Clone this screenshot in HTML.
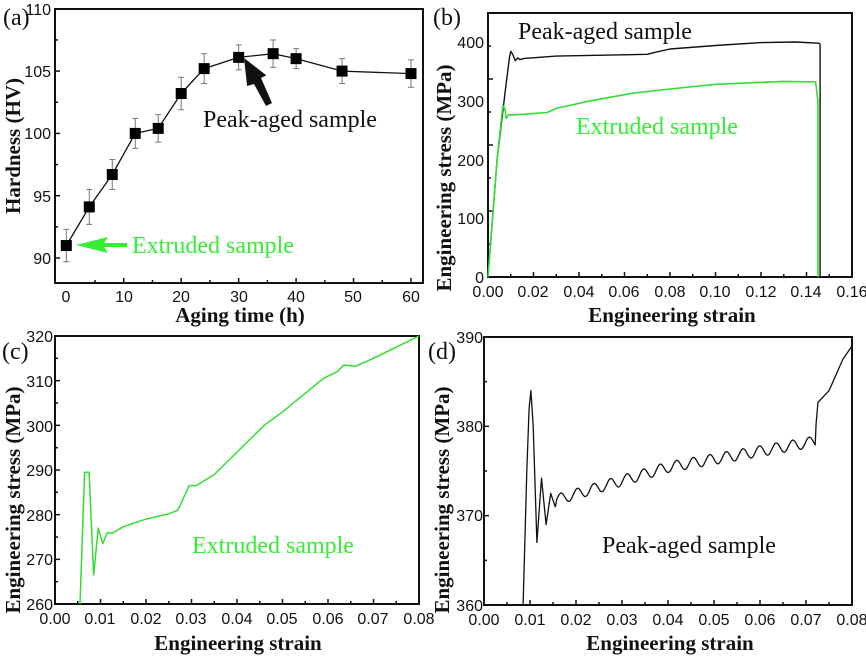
<!DOCTYPE html>
<html><head><meta charset="utf-8"><style>
body{margin:0;background:#fff}
svg{display:block}
.t{font-family:"Liberation Sans",sans-serif;font-size:16px;fill:#111}
.ax{font-family:"Liberation Serif",serif;font-weight:bold;font-size:21px;fill:#111}
.an{font-family:"Liberation Serif",serif;font-size:24px}
</style></head><body>
<svg id="s" width="866" height="657" viewBox="0 0 866 657" xmlns="http://www.w3.org/2000/svg">
<rect width="866" height="657" fill="#fff"/>
<g fill="none" stroke="#111" stroke-width="2">
<rect x="55" y="9" width="368" height="274"/>
<rect x="488" y="13" width="364" height="264"/>
<rect x="55" y="336" width="364" height="268"/>
<rect x="484" y="337" width="368" height="268"/>
</g>
<g id="g"></g>
<text class="an" x="3" y="25" fill="#111">(a)</text>
<g class="t" text-anchor="end">
<text x="51" y="15">110</text><text x="51" y="77">105</text><text x="51" y="139">100</text><text x="51" y="202">95</text><text x="51" y="264">90</text>
</g>
<g class="t" text-anchor="middle">
<text x="66" y="302">0</text><text x="124" y="302">10</text><text x="181" y="302">20</text><text x="239" y="302">30</text><text x="296" y="302">40</text><text x="353" y="302">50</text><text x="411" y="302">60</text>
</g>
<text class="ax" x="240" y="322" text-anchor="middle">Aging time (h)</text>
<text class="ax" transform="translate(20,146) rotate(-90)" text-anchor="middle">Hardness (HV)</text>
<text class="an" x="203" y="127" fill="#111">Peak-aged sample</text>
<text class="an" x="132" y="253" fill="#33ee33">Extruded sample</text>
<polygon points="76,245 108,237 104,243 127,243 127,247 104,247 108,253" fill="#33ee33"/>
<polygon points="244,58 266.3,75.2 261,78 272,103 266,106 254,84 247.1,86" fill="#111"/>
<text class="an" x="433" y="25" fill="#111">(b)</text>
<g class="t" text-anchor="end">
<text x="484" y="48">400</text><text x="484" y="107">300</text><text x="484" y="166">200</text><text x="484" y="224">100</text><text x="484" y="283">0</text>
</g>
<g class="t" text-anchor="middle">
<text x="488" y="297">0.00</text><text x="533" y="297">0.02</text><text x="579" y="297">0.04</text><text x="624" y="297">0.06</text><text x="670" y="297">0.08</text><text x="715" y="297">0.10</text><text x="761" y="297">0.12</text><text x="806" y="297">0.14</text><text x="852" y="297">0.16</text>
</g>
<text class="ax" x="672" y="322" text-anchor="middle">Engineering strain</text>
<text class="ax" transform="translate(451,178) rotate(-90)" text-anchor="middle">Engineering stress (MPa)</text>
<text class="an" x="518" y="39" fill="#111">Peak-aged sample</text>
<text class="an" x="576" y="134" fill="#33ee33">Extruded sample</text>
<text class="an" x="2" y="359" fill="#111">(c)</text>
<g class="t" text-anchor="end">
<text x="53" y="342">320</text><text x="53" y="387">310</text><text x="53" y="432">300</text><text x="53" y="476">290</text><text x="53" y="521">280</text><text x="53" y="565">270</text><text x="53" y="610">260</text>
</g>
<g class="t" text-anchor="middle">
<text x="55" y="624">0.00</text><text x="100" y="624">0.01</text><text x="146" y="624">0.02</text><text x="191" y="624">0.03</text><text x="237" y="624">0.04</text><text x="282" y="624">0.05</text><text x="328" y="624">0.06</text><text x="373" y="624">0.07</text><text x="419" y="624">0.08</text>
</g>
<text class="ax" x="238" y="650" text-anchor="middle">Engineering strain</text>
<text class="ax" transform="translate(20,500) rotate(-90)" text-anchor="middle">Engineering stress (MPa)</text>
<text class="an" x="192" y="553" fill="#33ee33">Extruded sample</text>
<text class="an" x="428" y="359" fill="#111">(d)</text>
<g class="t" text-anchor="end">
<text x="483" y="343">390</text><text x="483" y="432">380</text><text x="483" y="521">370</text><text x="483" y="611">360</text>
</g>
<g class="t" text-anchor="middle">
<text x="484" y="625">0.00</text><text x="530" y="625">0.01</text><text x="576" y="625">0.02</text><text x="622" y="625">0.03</text><text x="668" y="625">0.04</text><text x="714" y="625">0.05</text><text x="760" y="625">0.06</text><text x="806" y="625">0.07</text><text x="852" y="625">0.08</text>
</g>
<text class="ax" x="670" y="650" text-anchor="middle">Engineering strain</text>
<text class="ax" transform="translate(449,500) rotate(-90)" text-anchor="middle">Engineering stress (MPa)</text>
<text class="an" x="602" y="553" fill="#111">Peak-aged sample</text>
</svg>
<script>
var g=document.getElementById('g'),NS='http://www.w3.org/2000/svg';
function el(t,a){var e=document.createElementNS(NS,t);for(var k in a)e.setAttribute(k,a[k]);g.appendChild(e);return e;}
function path(pts,fx,fy,col,w){var d=pts.map(function(p,i){return (i?'L':'M')+fx(p[0]).toFixed(1)+','+fy(p[1]).toFixed(1)}).join('');el('path',{d:d,fill:'none',stroke:col,'stroke-width':w||1.4,'stroke-linejoin':'round'});}
function tk(x1,y1,x2,y2){el('line',{x1:x1,x2:x2,y1:y1,y2:y2,stroke:'#111','stroke-width':1.5});}
function ticks(x0,x1,y0,y1,nx,ny){for(var i=1;i<nx;i++){var x=x0+(x1-x0)*i/nx;tk(x,y1,x,y1-(i%2?3:5));}
for(var j=1;j<ny;j++){var y=y1-(y1-y0)*j/ny;tk(x0,y,x0+(j%2?3:5),y);}}
// a
var ax=function(x){return 66.3+x*5.745},ay=function(y){return 258-(y-90)*12.46};
for(var v=5;v<=65;v+=5){var X=ax(v);if(X<422)tk(X,283,X,283-(v%10?3:5));}
for(var v=90;v<=110;v+=2.5){var Y=ay(v);if(Y>10)tk(55,Y,55+(v%5?3:5),Y);}
var A=[[0,91],[4,94.1],[8,96.7],[12,100],[16,100.4],[20,103.2],[24,105.2],[30,106.1],[36,106.4],[40,106],[48,105],[60,104.8]];
var E=[1.3,1.4,1.2,1.2,1.1,1.3,1.2,1,1.1,0.8,1,1.1];
A.forEach(function(p,i){var e=E[i];
 el('line',{x1:ax(p[0]),x2:ax(p[0]),y1:ay(p[1]-e),y2:ay(p[1]+e),stroke:'#777','stroke-width':1});
 el('line',{x1:ax(p[0])-3,x2:ax(p[0])+3,y1:ay(p[1]-e),y2:ay(p[1]-e),stroke:'#777','stroke-width':1});
 el('line',{x1:ax(p[0])-3,x2:ax(p[0])+3,y1:ay(p[1]+e),y2:ay(p[1]+e),stroke:'#777','stroke-width':1});
});
path(A,ax,ay,'#111',1.3);
A.forEach(function(p){el('rect',{x:ax(p[0])-5.5,y:ay(p[1])-5.5,width:11,height:11,fill:'#000'})});
// b
var bx=function(x){return 488+x*2275},by=function(y){return 277-y*0.5875};
ticks(488,852,13,277,16,8);
path([[0,0],[0.004,200],[0.008,330],[0.0095,375],[0.010,384],[0.011,378],[0.012,368],[0.013,373],[0.014,370],[0.016,372],[0.03,376],[0.07,379],[0.073,382],[0.08,388],[0.1,394],[0.12,399],[0.135,400],[0.1455,398],[0.146,396],[0.146,0]],bx,by,'#111',1.4);
path([[0,0],[0.004,200],[0.0065,292],[0.0075,285],[0.008,270],[0.009,276],[0.012,276],[0.026,280],[0.03,287],[0.045,300],[0.064,313],[0.08,320],[0.1,328],[0.13,333],[0.144,332],[0.145,300],[0.145,0]],bx,by,'#33dd33',1.6);
// c
var cx=function(x){return 55+x*4550},cy=function(y){return 604-(y-260)*4.467};
ticks(55,419,336,604,16,12);
path([[0.0055,260],[0.0065,289.5],[0.0075,289.5],[0.0085,266.5],[0.0095,277],[0.0105,273.5],[0.0115,276],[0.0125,275.8],[0.015,277.3],[0.02,279],[0.025,280.2],[0.027,281],[0.0295,286.5],[0.031,286.5],[0.035,289],[0.04,294],[0.046,300],[0.05,303],[0.059,310.5],[0.062,312],[0.0635,313.5],[0.066,313.2],[0.07,315],[0.08,320]],cx,cy,'#33dd33',1.5);
// d
var dx=function(x){return 484+x*4600},dy=function(y){return 605-(y-360)*8.93};
ticks(484,852,337,605,16,6);
var D=[[0.0085,360],[0.0093,375],[0.0098,382],[0.0102,384],[0.0107,380],[0.0115,367],[0.0125,374.2],[0.0135,369],[0.0145,372.5],[0.0155,371]];
for(var x=0.0158;x<0.0722;x+=0.0002){var b=371.8+(x-0.0158)*150-Math.max(0,(x-0.04))*60;D.push([x,b+0.6*Math.sin((x-0.0158)/0.0036*2*Math.PI)]);}
D.push([0.0722,380.3],[0.0726,382.7],[0.075,384],[0.078,387.5],[0.08,389]);
path(D,dx,dy,'#111',1.3);
</script>
</body></html>
